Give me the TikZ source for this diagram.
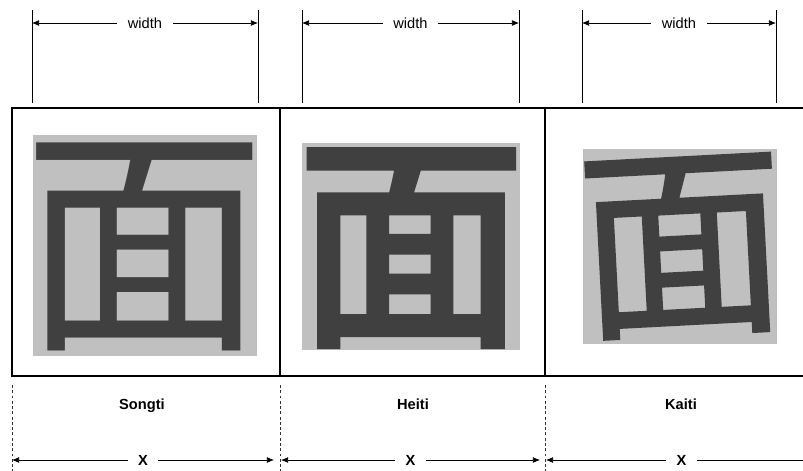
\documentclass[tikz,border=0pt]{standalone}
\usepackage{fontspec}
\setmainfont{Liberation Sans}
\newfontfamily\cjkregular{Noto Sans CJK SC}
\newfontfamily\cjkheavy[FakeBold=3]{Noto Sans CJK SC}
\newfontfamily\cjkbrush[FakeBold=1]{Noto Sans CJK SC}
\usetikzlibrary{arrows.meta}
\definecolor{glyphbg}{HTML}{C0C0C0}
\definecolor{glyphfg}{HTML}{404040}
\tikzset{
  samplebox/.style={fill=glyphbg, inner sep=0pt},
  glyph/.style={text=glyphfg, inner sep=0pt},
  dimline/.style={<->, line width=0.6pt},
  extline/.style={line width=0.6pt},
  guide/.style={dashed, dash pattern=on 2.5pt off 2pt, line width=0.5pt, black!80},
  gaplabel/.style={fill=white, inner xsep=9pt, inner ysep=1pt, font=\fontsize{12.5}{14}\selectfont},
  fontname/.style={anchor=base, font=\fontsize{12.5}{14}\selectfont\bfseries},
}
\begin{document}
\begin{tikzpicture}[x=0.03cm, y=-0.03cm, >={Latex[length=6pt,width=5pt]}]
\useasboundingbox (0,0) rectangle (803,470);

% glyph samples
\node[samplebox, minimum width=6.72cm, minimum height=6.63cm] (songtibox) at (145,245.5) {};
\node[samplebox, minimum width=6.51cm, minimum height=6.21cm] (heitibox) at (411,246.5) {};
\node[samplebox, minimum width=5.82cm, minimum height=5.85cm] (kaitibox) at (680,246.5) {};
\node[glyph] (songti) at ([xshift=-0.03cm,yshift=-0.03cm]songtibox.center)
  {\fontsize{208}{208}\cjkregular 面};
\node[glyph] (heiti) at ([yshift=-0.05cm]heitibox.center)
  {\fontsize{195}{195}\cjkheavy 面};
\node[glyph, rotate=3] (kaiti) at ([xshift=0.06cm]kaitibox.center)
  {\fontsize{178}{178}\cjkbrush 面};

% frame
\draw[line width=1.6pt] (830,108) -- (12,108) -- (12,376) -- (830,376);
\draw[line width=1.4pt] (280,108) -- (280,376);
\draw[line width=1.4pt] (545,108) -- (545,376);

% width dimensions
\coordinate (sl) at (32,10);  \coordinate (sr) at (258,10);
\coordinate (hl) at (302,10); \coordinate (hr) at (519,10);
\coordinate (kl) at (582,10); \coordinate (kr) at (776,10);
\draw[extline] (sl) -- ++(0,93);
\draw[extline] (sr) -- ++(0,93);
\draw[extline] (hl) -- ++(0,93);
\draw[extline] (hr) -- ++(0,93);
\draw[extline] (kl) -- ++(0,93);
\draw[extline] (kr) -- ++(0,93);
\draw[dimline] ([yshift=-13*0.03cm]sl) -- node[gaplabel] (swidth) {width} ([yshift=-13*0.03cm]sr);
\draw[dimline] ([yshift=-13*0.03cm]hl) -- node[gaplabel] (hwidth) {width} ([yshift=-13*0.03cm]hr);
\draw[dimline] ([yshift=-13*0.03cm]kl) -- node[gaplabel] (kwidth) {width} ([yshift=-13*0.03cm]kr);

% font names
\node[fontname] (songtiname) at (142,409) {Songti};
\node[fontname] (heitiname) at (413,409) {Heiti};
\node[fontname] (kaitiname) at (681,409) {Kaiti};

% x dimensions
\coordinate (g0) at (12,385);
\coordinate (g1) at (280,385);
\coordinate (g2) at (545,385);
\draw[guide] (g0) -- ++(0,90);
\draw[guide] (g1) -- ++(0,90);
\draw[guide] (g2) -- ++(0,90);
\coordinate (x0) at (12,460);
\coordinate (x1l) at (274,460); \coordinate (x1r) at (281,460);
\coordinate (x2l) at (540,460); \coordinate (x2r) at (546,460);
\coordinate (x3) at (830,460);
\draw[dimline] (x0) -- node[gaplabel, font=\fontsize{12.5}{14}\selectfont\bfseries] (songtix) {X} (x1l);
\draw[dimline] (x1r) -- node[gaplabel, font=\fontsize{12.5}{14}\selectfont\bfseries] (heitix) {X} (x2l);
\draw[dimline] (x2r) -- node[gaplabel, font=\fontsize{12.5}{14}\selectfont\bfseries, pos=0.477] (kaitix) {X} (x3);
\end{tikzpicture}
\end{document}
